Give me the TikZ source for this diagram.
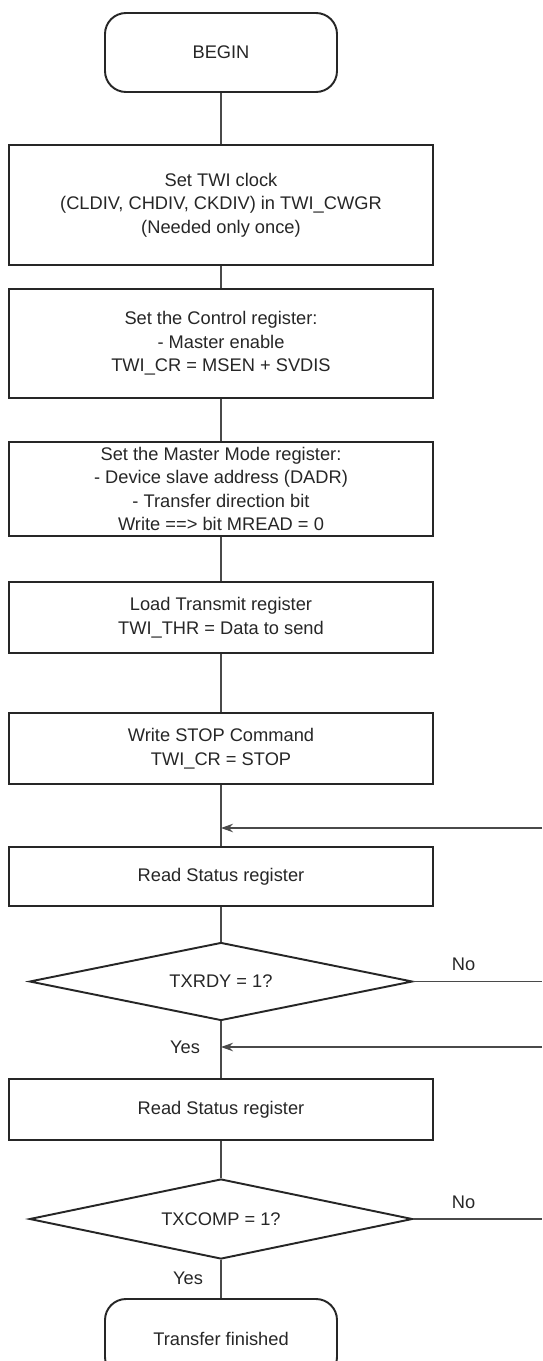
\documentclass[tikz,border=0pt]{standalone}
\usepackage{fontspec}
\setmainfont{Liberation Sans}
\usepackage{tikz}
\usetikzlibrary{positioning,arrows.meta,shapes.geometric}
\definecolor{ln}{HTML}{262626}
\definecolor{wr}{HTML}{4A4A4A}

\begin{document}
\begin{tikzpicture}[font=\fontsize{10.4}{13.3}\selectfont,text=ln,
  box/.style={draw=ln,line width=1.1pt,minimum width=8.48cm,align=center,inner sep=0pt},
  term/.style={draw=ln,line width=1.1pt,rounded corners=0.42cm,minimum width=4.64cm,minimum height=1.58cm},
  test/.style={draw=ln,line width=1.1pt,diamond,aspect=5,inner sep=0pt,minimum width=7.66cm,minimum height=1.56cm},
  wire/.style={draw=wr,line width=0.6pt},
  back/.style={wire,-{Stealth[length=2.4mm,width=1.7mm]}}]
  \useasboundingbox (0,0) rectangle (10.84,-27.22);

  \node[term] (begin) at (4.42,-1.05) {BEGIN};
  \node[box,minimum height=2.40cm] (clk) at (4.42,-4.10)
    {Set TWI clock\\(CLDIV, CHDIV, CKDIV) in TWI\_CWGR\\(Needed only once)};
  \node[box,minimum height=2.18cm] (ctrl) at (4.42,-6.87)
    {Set the Control register:\\- Master enable\\TWI\_CR = MSEN + SVDIS};
  \node[box,minimum height=1.88cm] (mode) at (4.42,-9.78)
    {Set the Master Mode register:\\- Device slave address (DADR)\\- Transfer direction bit\\Write ==> bit MREAD = 0};
  \node[box,minimum height=1.42cm] (load) at (4.42,-12.35)
    {Load Transmit register\\TWI\_THR = Data to send};
  \node[box,minimum height=1.42cm] (stop) at (4.42,-14.97)
    {Write STOP Command\\TWI\_CR = STOP};
  \node[box,minimum height=1.18cm] (rd1) at (4.42,-17.53) {Read Status register};
  \node[test] (dia1) at (4.42,-19.63) {TXRDY = 1?};
  \node[box,minimum height=1.22cm] (rd2) at (4.42,-22.19) {Read Status register};
  \node[test,minimum height=1.60cm] (dia2) at (4.42,-24.38) {TXCOMP = 1?};
  \node[term] (end) at (4.42,-26.77) {Transfer finished};

  \node (yes1) at (3.70,-20.94) {Yes};
  \node (yes2) at (3.76,-25.56) {Yes};

  % loop ends at the right edge
  \coordinate (r1) at (10.84,-16.56);
  \coordinate (r2) at (10.84,-20.94);

  \draw[wire] (begin) -- (clk);
  \draw[wire] (clk) -- (ctrl);
  \draw[wire] (ctrl) -- (mode);
  \draw[wire] (mode) -- (load);
  \draw[wire] (load) -- (stop);
  \draw[wire] (stop) -- (rd1);
  \draw[wire] (rd1) -- (dia1);
  \draw[wire] (dia1) -- (rd2);
  \draw[wire] (rd2) -- (dia2);
  \draw[wire] (dia2) -- (end);

  \draw[wire] (dia1.east) -- (dia1.east -| r1) node[pos=0.39,above=0.08cm] {No};
  \draw[wire] (dia2.east) -- (dia2.east -| r1) node[pos=0.39,above=0.08cm] {No};
  \draw[back] (r1) -- (stop.south |- r1);
  \draw[back] (r2) -- (dia1.south |- r2);
\end{tikzpicture}
\end{document}
